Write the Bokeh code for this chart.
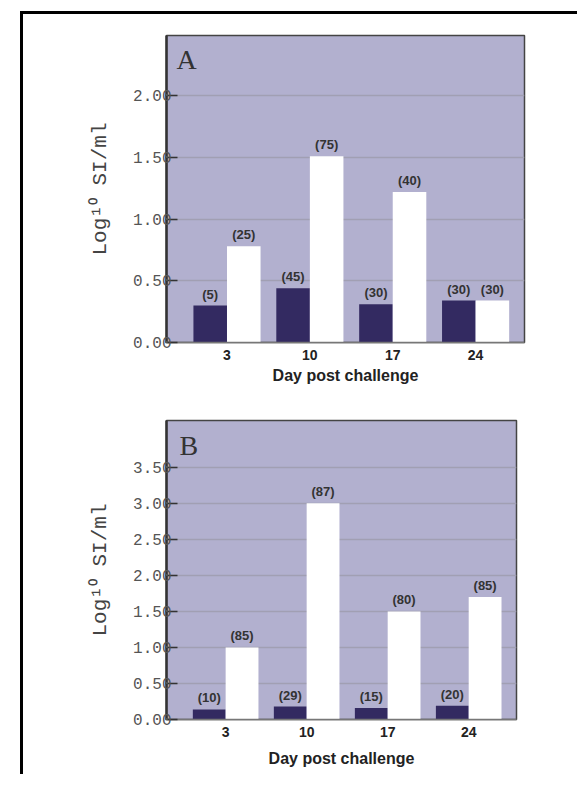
from bokeh.plotting import figure
from bokeh.layouts import column
from bokeh.models import ColumnDataSource, FixedTicker, Label, Range1d, NumeralTickFormatter
from bokeh.transform import dodge
from bokeh.core.properties import value
from bokeh.embed import file_html
from bokeh.resources import INLINE

# ---- data ----
days = ["3", "10", "17", "24"]
idx = [0, 1, 2, 3]

a_dark = [0.30, 0.44, 0.31, 0.34]
a_white = [0.78, 1.51, 1.22, 0.34]
a_dark_n = ["(5)", "(45)", "(30)", "(30)"]
a_white_n = ["(25)", "(75)", "(40)", "(30)"]
a_yticks = [0.0, 0.5, 1.0, 1.5, 2.0]

b_dark = [0.14, 0.18, 0.16, 0.19]
b_white = [1.00, 3.00, 1.50, 1.70]
b_dark_n = ["(10)", "(29)", "(15)", "(20)"]
b_white_n = ["(85)", "(87)", "(80)", "(85)"]
b_yticks = [0.0, 0.5, 1.0, 1.5, 2.0, 2.5, 3.0, 3.5]

BG = "#b2b0cf"
DARK = "#332a61"
GRID = "#a19fb3"


def panel(letter, dark, white, dark_n, white_n, yticks, ymax,
          fw, fh, bl, bt, br, bb, letter_dx, letter_dy, xlab_standoff):
    src = ColumnDataSource(dict(x=idx, dark=dark, white=white,
                                dark_n=dark_n, white_n=white_n))
    p = figure(output_backend="svg", toolbar_location=None,
               frame_width=fw, frame_height=fh,
               min_border_left=bl, min_border_top=bt,
               min_border_right=br, min_border_bottom=bb,
               x_range=Range1d(-0.73, 3.59), y_range=Range1d(0, ymax))
    p.background_fill_color = BG
    p.border_fill_color = "white"
    p.outline_line_color = "#444444"
    p.outline_line_width = 1.5

    w = 0.405
    p.vbar(x=dodge("x", -w / 2, range=p.x_range), top="dark", width=w,
           bottom=0, source=src, fill_color=DARK, line_color=None)
    p.vbar(x=dodge("x", w / 2, range=p.x_range), top="white", width=w,
           bottom=0, source=src, fill_color="white", line_color=None)

    for col, lab, off in (("dark", "dark_n", -w / 2), ("white", "white_n", w / 2)):
        p.text(x=dodge("x", off, range=p.x_range), y=col, text=lab, source=src,
               text_align="center", text_baseline="bottom", y_offset=-4,
               text_font=value("Liberation Sans Narrow, Liberation Sans"),
               text_font_size="13px",
               text_font_style="bold", text_color="#333333")

    # y axis
    ya = p.yaxis[0]
    ya.ticker = FixedTicker(ticks=yticks)
    ya.formatter = NumeralTickFormatter(format="0.00")
    ya.major_label_text_font = "Liberation Mono"
    ya.major_label_text_font_size = "16px"
    ya.major_label_text_color = "#555555"
    ya.major_label_standoff = -6
    ya.major_tick_in = 11
    ya.major_tick_out = 1
    ya.major_tick_line_color = "#333333"
    ya.major_tick_line_width = 1.5
    ya.minor_tick_line_color = None
    ya.axis_line_color = "#333333"
    ya.axis_line_width = 2.5
    ya.axis_label = "Log\u00b9\u2070 SI/ml"
    ya.axis_label_text_font = "Liberation Mono"
    ya.axis_label_text_font_size = "21px"
    ya.axis_label_text_font_style = "normal"
    ya.axis_label_text_color = "#444444"
    ya.axis_label_standoff = 18

    # x axis
    xa = p.xaxis[0]
    xa.ticker = FixedTicker(ticks=idx)
    xa.major_label_overrides = {i: d for i, d in zip(idx, days)}
    xa.major_label_text_font = "Liberation Sans"
    xa.major_label_text_font_style = "bold"
    xa.major_label_text_font_size = "14px"
    xa.major_label_text_color = "#222222"
    xa.major_label_standoff = 7
    xa.major_tick_in = 0
    xa.major_tick_out = 0
    xa.minor_tick_line_color = None
    xa.axis_line_color = "#777777"
    xa.axis_line_width = 1.5
    xa.axis_label = "Day post challenge"
    xa.axis_label_text_font = "Liberation Sans"
    xa.axis_label_text_font_style = "bold"
    xa.axis_label_text_font_size = "16px"
    xa.axis_label_text_color = "#222222"
    xa.axis_label_standoff = xlab_standoff

    p.xgrid.visible = False
    p.ygrid.ticker = FixedTicker(ticks=yticks)
    p.ygrid.grid_line_color = GRID
    p.ygrid.grid_line_width = 1.5

    p.add_layout(Label(x=letter_dx, y=fh - letter_dy, x_units="screen", y_units="screen",
                       text=letter, text_font="Liberation Serif", text_font_size="28px",
                       text_color="#333333", text_baseline="top"))
    return p


pA = panel("A", a_dark, a_white, a_dark_n, a_white_n, a_yticks, 2.49,
           358, 307, 143, 21, 53, 51, 10, 8, 4)
pB = panel("B", b_dark, b_white, b_dark_n, b_white_n, b_yticks, 4.15,
           350, 299, 139, 27, 65, 55, 13, 9, 10)

layout = column(pA, pB, margin=(11, 0, 0, 20),
                styles={"border-top": "3px solid black", "border-left": "3px solid black"})

open("out.html", "w").write(file_html(layout, INLINE))
